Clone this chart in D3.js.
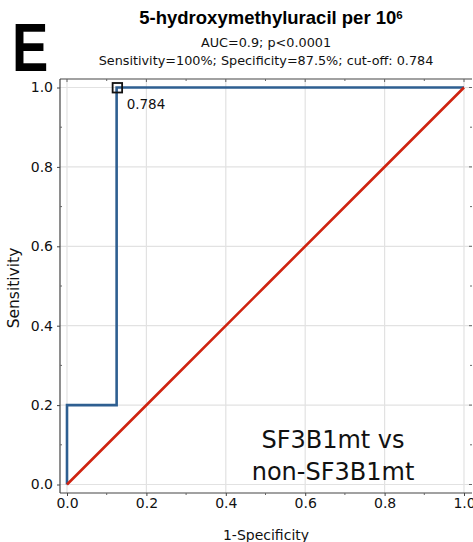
<!DOCTYPE html>
<html>
<head>
<meta charset="utf-8">
<script src="https://cdn.jsdelivr.net/npm/d3@7"></script>
<style>
  body { margin: 0; background: #fff; }
  text { font-family: "DejaVu Sans", sans-serif; }
</style>
</head>
<body>
<div id="chart"></div>
<script>
// ROC data
const rocX = [0, 0, 0.125, 0.125, 1];
const rocY = [0, 0.2, 0.2, 1, 1];
const refX = [0, 0.25, 0.5, 0.75, 1];
const refY = [0, 0.25, 0.5, 0.75, 1];
const cutoff = { x: 0.125, y: 1, label: "0.784" };
const ticks = [0, 0.2, 0.4, 0.6, 0.8, 1.0];
const minorTicks = [0.1, 0.3, 0.5, 0.7, 0.9];

function main() {
    const width = 473, height = 542;
    const svg = d3.select("#chart").append("svg")
        .attr("width", width)
        .attr("height", height);

    const x = d3.scaleLinear().domain([0, 1]).range([67, 464]);
    const y = d3.scaleLinear().domain([0, 1]).range([484.5, 87.5]);

    // frame
    const fx0 = 60, fx1 = 472, fy0 = 79, fy1 = 493;

    // grid
    svg.append("g").selectAll("line.gx")
        .data(ticks).enter().append("line")
        .attr("x1", d => x(d)).attr("x2", d => x(d))
        .attr("y1", fy0).attr("y2", fy1)
        .style("stroke", "#e2e2e2").style("stroke-width", 1.2);
    svg.append("g").selectAll("line.gy")
        .data(ticks).enter().append("line")
        .attr("y1", d => y(d)).attr("y2", d => y(d))
        .attr("x1", fx0).attr("x2", fx1)
        .style("stroke", "#e2e2e2").style("stroke-width", 1.2);

    // axes lines
    svg.append("line").attr("x1", fx0).attr("x2", fx1).attr("y1", fy0).attr("y2", fy0)
        .style("stroke", "#444").style("stroke-width", 1.2);
    svg.append("line").attr("x1", fx0).attr("x2", fx0).attr("y1", fy0).attr("y2", fy1)
        .style("stroke", "#444").style("stroke-width", 1.2);
    svg.append("line").attr("x1", fx0).attr("x2", fx1).attr("y1", fy1).attr("y2", fy1)
        .style("stroke", "#444").style("stroke-width", 1.2);

    // bottom axis
    const xAxis = d3.axisBottom(x).tickValues(ticks).tickFormat(d3.format(".1f")).tickSize(3).tickPadding(2);
    const gx = svg.append("g").attr("transform", `translate(0,${fy1})`).call(xAxis);
    gx.select(".domain").remove();
    gx.selectAll("text").style("font-size", "14px").style("font-family", "DejaVu Sans").attr("fill", "#111");
    gx.selectAll("line").style("stroke", "#444");
    svg.append("g").selectAll("line").data(minorTicks).enter().append("line")
        .attr("x1", d => x(d)).attr("x2", d => x(d)).attr("y1", fy1).attr("y2", fy1 + 2)
        .style("stroke", "#666");

    // left axis
    const yAxis = d3.axisLeft(y).tickValues(ticks).tickFormat(d3.format(".1f")).tickSize(3).tickPadding(4);
    const gy = svg.append("g").attr("transform", `translate(${fx0},0)`).call(yAxis);
    gy.select(".domain").remove();
    gy.selectAll("text").style("font-size", "14px").style("font-family", "DejaVu Sans").attr("fill", "#111");
    gy.selectAll("line").style("stroke", "#444");
    svg.append("g").selectAll("line").data(minorTicks).enter().append("line")
        .attr("y1", d => y(d)).attr("y2", d => y(d)).attr("x1", fx0).attr("x2", fx0 + 2)
        .style("stroke", "#666");

    // top and right ticks (inward)
    svg.append("g").selectAll("line").data(ticks.concat(minorTicks)).enter().append("line")
        .attr("x1", d => x(d)).attr("x2", d => x(d)).attr("y1", fy0).attr("y2", d => fy0 + (minorTicks.includes(d) ? 2 : 3))
        .style("stroke", "#666");
    svg.append("g").selectAll("line").data(ticks.concat(minorTicks)).enter().append("line")
        .attr("y1", d => y(d)).attr("y2", d => y(d)).attr("x1", fx1).attr("x2", d => fx1 - (minorTicks.includes(d) ? 2 : 3))
        .style("stroke", "#666");

    const line = d3.line().x(d => x(d[0])).y(d => y(d[1]));

    // ROC curve
    svg.append("path")
        .datum(rocX.map((v, i) => [v, rocY[i]]))
        .attr("d", line)
        .style("fill", "none").style("stroke", "#2e5f91").style("stroke-width", 2.6);

    // reference diagonal
    svg.append("path")
        .datum(refX.map((v, i) => [v, refY[i]]))
        .attr("d", line)
        .style("fill", "none").style("stroke", "#cf2310").style("stroke-width", 2.6);

    // cut-off marker
    svg.append("rect")
        .attr("x", x(cutoff.x) - 4).attr("y", y(cutoff.y) - 4.5)
        .attr("width", 9.5).attr("height", 9.5)
        .style("fill", "none").style("stroke", "#111").style("stroke-width", 1.8);
    svg.append("text")
        .attr("x", x(cutoff.x) + 10).attr("y", y(cutoff.y) + 21)
        .style("font-size", "13.5px").attr("fill", "#111")
        .text(cutoff.label);

    // annotation
    const ann = svg.append("text").attr("text-anchor", "middle")
        .style("font-size", "24px").attr("fill", "#111");
    ann.append("tspan").attr("x", 333).attr("y", 448).text("SF3B1mt vs");
    ann.append("tspan").attr("x", 333).attr("y", 480).text("non-SF3B1mt");

    // axis titles
    svg.append("text")
        .attr("x", 266).attr("y", 540).attr("text-anchor", "middle")
        .style("font-size", "14px").attr("fill", "#111")
        .text("1-Specificity");
    svg.append("text")
        .attr("transform", "translate(19,288) rotate(-90)").attr("text-anchor", "middle")
        .style("font-size", "15.5px").attr("fill", "#111")
        .text("Sensitivity");

    // titles
    const t = svg.append("text")
        .attr("x", 271).attr("y", 24).attr("text-anchor", "middle")
        .style("font-family", "Liberation Sans, Arial, sans-serif")
        .style("font-size", "18.5px").style("font-weight", "bold").attr("fill", "#000");
    t.append("tspan").text("5-hydroxymethyluracil per 10");
    t.append("tspan").attr("dy", -5).style("font-size", "11.5px").text("6");

    svg.append("text")
        .attr("x", 266).attr("y", 47).attr("text-anchor", "middle")
        .style("font-size", "12.8px").attr("fill", "#111")
        .text("AUC=0.9; p<0.0001");
    svg.append("text")
        .attr("x", 266).attr("y", 65).attr("text-anchor", "middle")
        .style("font-size", "12.8px").attr("fill", "#111")
        .text("Sensitivity=100%; Specificity=87.5%; cut-off: 0.784");

    svg.append("text")
        .attr("transform", "translate(12,71) scale(0.8,1)")
        .style("font-family", "Liberation Sans, Arial, sans-serif")
        .style("font-size", "68px").style("font-weight", "bold").attr("fill", "#000")
        .text("E");
}
main();
</script>
</body>
</html>
